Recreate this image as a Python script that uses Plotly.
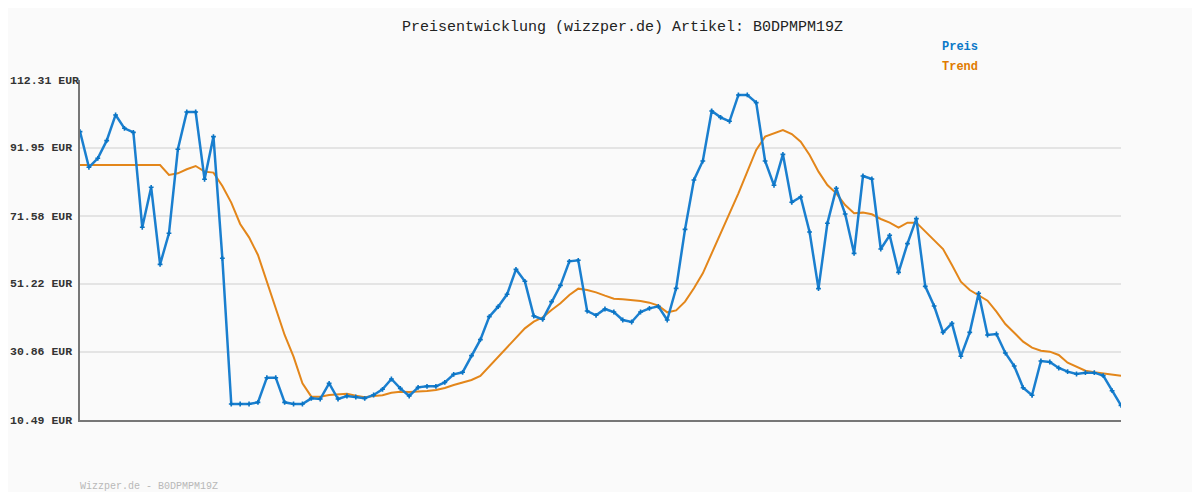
import plotly.graph_objects as go

title_text = "Preisentwicklung (wizzper.de) Artikel: B0DPMPM19Z"
footer_text = "Wizzper.de - B0DPMPM19Z"
tick_vals = [10.49, 30.86, 51.22, 71.58, 91.95, 112.31]
tick_labels = ["10.49 EUR", "30.86 EUR", "51.22 EUR", "71.58 EUR", "91.95 EUR", "112.31 EUR"]

preis = [96.84, 86.17, 88.86, 94.15, 101.84, 97.84, 96.64, 68.2, 80.17, 57.1,
         66.4, 91.56, 102.73, 102.73, 82.57, 95.35, 58.91, 15.28, 15.28, 15.28,
         15.78, 23.16, 23.16, 15.78, 15.28, 15.28, 16.98, 16.78, 21.47, 16.78,
         17.68, 17.38, 16.98, 17.98, 19.68, 22.77, 19.97, 17.68, 20.27, 20.57,
         20.57, 21.77, 24.17, 24.77, 29.76, 34.55, 41.44, 44.43, 48.13, 55.61,
         52.02, 41.64, 40.64, 45.93, 50.82, 58.01, 58.31, 43.13, 41.84, 43.73,
         42.83, 40.44, 39.84, 42.83, 43.93, 44.53, 40.44, 49.92, 67.59, 82.37,
         88.06, 103.03, 101.13, 99.94, 107.83, 107.83, 105.53, 88.06, 80.77, 90.05,
         75.68, 77.28, 66.79, 49.82, 69.39, 79.87, 72.19, 60.4, 83.56, 82.67,
         61.7, 65.8, 54.71, 63.3, 70.79, 50.52, 44.63, 36.74, 39.44, 29.56,
         36.74, 48.43, 35.95, 36.25, 30.56, 26.66, 20.17, 17.88, 28.16, 27.86,
         26.06, 24.96, 24.27, 24.66, 24.66, 23.77, 19.27, 14.88]

trend = [86.86, 86.86, 86.86, 86.86, 86.86, 86.86, 86.86, 86.86, 86.86, 86.86,
         83.87, 84.37, 85.57, 86.56, 84.87, 84.57, 80.57, 75.58, 69.19, 65.19,
         59.91, 51.9, 43.43, 35.95, 29.45, 21.47, 17.48, 17.48, 17.98, 18.18,
         18.37, 17.78, 17.28, 17.68, 17.88, 18.67, 18.97, 18.87, 18.97, 19.18,
         19.47, 20.07, 20.97, 21.67, 22.47, 23.67, 26.46, 29.26, 32.1, 34.95,
         37.94, 39.94, 41.23, 43.43, 45.43, 47.93, 49.82, 49.42, 48.72, 47.73,
         46.83, 46.63, 46.43, 46.13, 45.63, 44.73, 42.74, 43.3, 45.93, 49.92,
         54.41, 60.4, 65.9, 71.89, 78.37, 84.86, 91.35, 95.35, 96.34, 97.34,
         96.14, 93.85, 89.86, 84.86, 80.87, 78.37, 74.88, 72.39, 72.59, 72.09,
         70.69, 69.59, 68.09, 69.59, 69.59, 66.89, 64.19, 61.7, 56.91, 51.92,
         49.42, 47.93, 46.23, 42.94, 39.24, 36.64, 33.95, 32.15, 31.25, 30.95,
         29.96, 27.66, 26.46, 25.26, 24.77, 24.47, 24.17, 23.77]

x = list(range(len(preis)))

BLUE = "#1a7fcf"
ORANGE = "#e3861a"
MONO = "Liberation Mono, DejaVu Sans Mono, monospace"

fig = go.Figure()
fig.add_trace(go.Scatter(x=x, y=trend, mode="lines", name="Trend",
                         line=dict(color=ORANGE, width=2)))
fig.add_trace(go.Scatter(x=x, y=preis, mode="lines+markers", name="Preis",
                         line=dict(color=BLUE, width=2.5),
                         marker=dict(symbol="cross", size=4, color="#0a74c4")))

annotations = []
for v, t in zip(tick_vals, tick_labels):
    annotations.append(dict(x=-0.0690, xref="paper", y=v, yref="y", text="<b>" + t + "</b>",
                            showarrow=False, xanchor="left", yanchor="middle",
                            font=dict(family=MONO, size=11.5, color="#333333")))
annotations.append(dict(x=0.5216, xref="paper", y=1.153, yref="paper", text=title_text,
                        showarrow=False, xanchor="center", yanchor="middle",
                        font=dict(family=MONO, size=15, color="#222222")))
annotations.append(dict(x=0.8261, xref="paper", y=1.097, yref="paper", text="<b>Preis</b>",
                        showarrow=False, xanchor="left", yanchor="middle",
                        font=dict(family=MONO, size=12, color="#0a78c8")))
annotations.append(dict(x=0.8261, xref="paper", y=1.038, yref="paper", text="<b>Trend</b>",
                        showarrow=False, xanchor="left", yanchor="middle",
                        font=dict(family=MONO, size=12, color="#e07b00")))
annotations.append(dict(x=-0.002, xref="paper", y=-0.197, yref="paper", text=footer_text,
                        showarrow=False, xanchor="left", yanchor="middle",
                        font=dict(family=MONO, size=10, color="#b8b8b8")))

fig.update_layout(
    width=1184, height=484,
    margin=dict(l=72, r=71, t=72, b=72),
    paper_bgcolor="#fafafa", plot_bgcolor="#fafafa",
    showlegend=False,
    annotations=annotations,
    xaxis=dict(range=[0, len(preis) - 1], showgrid=False, zeroline=False,
               showticklabels=False, ticks="", showline=True, linecolor="#777777",
               linewidth=2),
    yaxis=dict(range=[tick_vals[0], tick_vals[-1]], tickvals=tick_vals,
               showticklabels=False, ticks="", showgrid=True, gridcolor="#e4e4e4",
               gridwidth=2, zeroline=False, showline=True, linecolor="#777777",
               linewidth=2),
)

fig.write_html("out.html")
